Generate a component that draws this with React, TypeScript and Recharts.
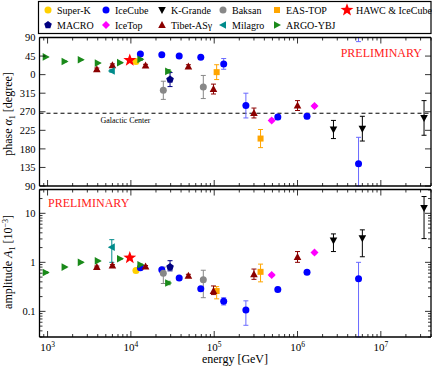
import React from 'react';
import { ScatterChart, Scatter, XAxis, YAxis, ErrorBar, ReferenceLine } from 'recharts';

// each row: [energy GeV, phase deg, phase error deg, amplitude 1e-3, amplitude low, amplitude high]
const superK = [[11500, 32, 0, 0.68, 0.68, 0.68]];
const iceCube = [
  [13000, 50, 2, 0.78, 0.75, 0.81],
  [23500, 48, 2, 0.71, 0.68, 0.74],
  [38000, 45, 2, 0.48, 0.46, 0.5],
  [69000, 42, 3, 0.29, 0.27, 0.31],
  [130000, 26, 13, 0.16, 0.135, 0.19],
  [240000, 285, 30, 0.107, 0.052, 0.164],
  [580000, 257, 6, 0.28, 0.26, 0.31],
  [1300000, 259, 6, 0.63, 0.59, 0.67],
  [5400000, 144, 64, 0.46, 0.01, 1.0],
];
const kGrande = [
  [2700000, 227, 22, 2.78, 1.66, 3.8],
  [6000000, 229, 30, 3.1, 1.3, 4.6],
  [33000000, 255, 42, 12.8, 3.05, 22],
];
const baksan = [
  [24500, 322, 22, 0.6, 0.37, 0.8],
  [74000, 330, 28, 0.44, 0.19, 0.69],
];
const easTop = [
  [107000, 6, 18, 0.26, 0.18, 0.32],
  [360000, 205, 22, 0.64, 0.4, 0.92],
];
const hawcIceCube = [[9700, 35, 0, 1.24, 1.24, 1.24]];
const macro = [[29500, 348, 17, 0.8, 0.67, 1.08]];
const iceTop = [
  [490000, 249, 3, 0.55, 0.52, 0.58],
  [1600000, 284, 3, 1.58, 1.5, 1.66],
];
const tibet = [
  [3900, 13, 3, 0.8, 0.76, 0.84],
  [6000, 23, 3, 0.86, 0.82, 0.9],
  [15000, 22, 3, 0.82, 0.78, 0.86],
  [49000, 20, 4, 0.53, 0.5, 0.57],
  [98000, 325, 12, 0.26, 0.22, 0.33],
  [300000, 267, 12, 0.57, 0.45, 0.73],
  [1000000, 285, 12, 1.29, 1.0, 1.66],
];
const milagro = [[5900, 9, 3, 2.04, 1.0, 2.9]];
const argo = [
  [950, 43, 1, 0.62, 0.6, 0.64],
  [1600, 32, 1, 0.8, 0.78, 0.82],
  [2500, 36, 1, 1.0, 0.98, 1.02],
  [4000, 28, 1, 1.07, 1.04, 1.1],
  [7400, 29, 1, 1.18, 1.15, 1.21],
  [13000, 37, 2, 0.89, 0.86, 0.92],
  [28000, 8, 4, 0.38, 0.35, 0.41],
];

const GALACTIC_CENTER = 266.4;
const PHASE_TICKS = [90, 45, 0, -45, -90, -135, -180, -225, -270];
const PHASE_DOMAIN = [-270, 90];
const X_DOMAIN = [800, 4e7];
const AMP_DOMAIN = [0.03, 30.6];

const SERIES = [
  { name: 'Super-K', rows: superK, color: '#FFD000', bar: '#FFD000', kind: 'circle', row: 0, col: 0 },
  { name: 'IceCube', rows: iceCube, color: '#0000FF', bar: '#6A6AFF', kind: 'circle', row: 0, col: 1 },
  { name: 'K-Grande', rows: kGrande, color: '#000000', bar: '#000000', kind: 'down', row: 0, col: 2 },
  { name: 'Baksan', rows: baksan, color: '#888888', bar: '#888888', kind: 'circle', row: 0, col: 3 },
  { name: 'EAS-TOP', rows: easTop, color: '#FFA500', bar: '#FFA500', kind: 'square', row: 0, col: 4 },
  { name: 'HAWC & IceCube', rows: hawcIceCube, color: '#FF0000', bar: '#FF0000', kind: 'star', row: 0, col: 5 },
  { name: 'MACRO', rows: macro, color: '#000080', bar: '#000080', kind: 'pentagon', row: 1, col: 0 },
  { name: 'IceTop', rows: iceTop, color: '#FF00FF', bar: '#FF00FF', kind: 'diamond', row: 1, col: 1 },
  { name: 'Tibet-ASγ', rows: tibet, color: '#8B0000', bar: '#8B0000', kind: 'up', row: 1, col: 2 },
  { name: 'Milagro', rows: milagro, color: '#008B8B', bar: '#008B8B', kind: 'left', row: 1, col: 3 },
  { name: 'ARGO-YBJ', rows: argo, color: '#1A8A1A', bar: '#1A8A1A', kind: 'right', row: 1, col: 4 },
];

const W = 432;
const H = 367;
const FONT = "'Liberation Serif', 'DejaVu Serif', serif";
const FRAME = { stroke: '#000', strokeWidth: 1.3 };
const LEGEND_X = [48, 106, 162, 223, 277, 347];
const LEGEND_Y = [10, 25];

// log ticks (1..9 x 10^n) inside a range
const logTicks = (lo: number, hi: number) => {
  const out: number[] = [];
  for (let d = Math.floor(Math.log10(lo)); d <= Math.ceil(Math.log10(hi)); d++) {
    for (let m = 1; m < 10; m++) {
      const v = +(m * Math.pow(10, d)).toPrecision(6);
      if (v >= lo && v <= hi) out.push(v);
    }
  }
  return out;
};
const X_TICKS = logTicks(X_DOMAIN[0], X_DOMAIN[1]);
const AMP_TICKS = logTicks(AMP_DOMAIN[0], AMP_DOMAIN[1]);
const isDecade = (v: number) => Math.abs(Math.log10(v) - Math.round(Math.log10(v))) < 1e-6;

// phase is shown from 90 down through 0 to 90 again (-270)
const wrap = (p: number) => (p > 90 ? p - 360 : p);

// error bars are cut at the frame; a phase bar running off the bottom comes back in at the top
const phaseData = (rows: number[][]) =>
  rows.flatMap((r) => {
    const v = wrap(r[1]);
    const d = r[2];
    const pts: any[] = [{ e: r[0], v, err: [Math.min(d, v - PHASE_DOMAIN[0]), Math.min(d, PHASE_DOMAIN[1] - v)] }];
    const over = PHASE_DOMAIN[0] - (v - d);
    if (over > 0) pts.push({ e: r[0], v: PHASE_DOMAIN[1], err: [over, 0], ghost: true });
    return pts;
  });

const ampData = (rows: number[][]) =>
  rows.map((r) => ({
    e: r[0],
    v: r[3],
    err: [r[3] - Math.max(r[4], AMP_DOMAIN[0]), Math.min(r[5], AMP_DOMAIN[1]) - r[3]],
  }));

const Marker = ({ kind, cx, cy, color }: any) => {
  const poly = (pts: number[][]) => (
    <polygon points={pts.map((p) => `${cx + p[0]},${cy + p[1]}`).join(' ')} fill={color} />
  );
  switch (kind) {
    case 'square':
      return <rect x={cx - 3} y={cy - 3} width={6} height={6} fill={color} />;
    case 'diamond':
      return poly([[0, -4], [4, 0], [0, 4], [-4, 0]]);
    case 'up':
      return poly([[0, -4], [3.8, 3], [-3.8, 3]]);
    case 'down':
      return poly([[0, 4], [3.8, -3], [-3.8, -3]]);
    case 'right':
      return poly([[4, 0], [-3, -3.8], [-3, 3.8]]);
    case 'left':
      return poly([[-4, 0], [3, -3.8], [3, 3.8]]);
    case 'pentagon':
      return poly([0, 1, 2, 3, 4].map((i) => {
        const a = -Math.PI / 2 + (i * 2 * Math.PI) / 5;
        return [4 * Math.cos(a), 4 * Math.sin(a)];
      }));
    case 'star':
      return poly(Array.from({ length: 10 }, (_, i) => {
        const a = -Math.PI / 2 + (i * Math.PI) / 5;
        const r = i % 2 === 0 ? 6.8 : 2.8;
        return [r * Math.cos(a), r * Math.sin(a)];
      }));
    default:
      return <circle cx={cx} cy={cy} r={3.5} fill={color} />;
  }
};

const pointShape = (s: any) => (p: any) =>
  p.ghost || (p.payload && p.payload.ghost) ? <g /> : <Marker kind={s.kind} cx={p.cx} cy={p.cy} color={s.color} />;

// tick renderers: ticks point into the frame, labels only where asked
const xTick = (side: 'top' | 'bottom', labels: boolean) => (p: any) => {
  const v = p.payload.value;
  const major = isDecade(v);
  const len = major ? 6 : 3;
  const dir = side === 'bottom' ? -1 : 1;
  return (
    <g>
      <line x1={p.x} x2={p.x} y1={p.y} y2={p.y + dir * len} stroke="#000" strokeWidth={0.8} />
      {labels && major && (
        <text x={p.x} y={p.y + 14} textAnchor="middle" fontSize={11} fontFamily={FONT} fill="#000">
          10<tspan fontSize={7.5} dy={-4.5}>{Math.round(Math.log10(v))}</tspan>
        </text>
      )}
    </g>
  );
};

const yTick = (side: 'left' | 'right', label?: (v: number) => string | null, log?: boolean) => (p: any) => {
  const v = p.payload.value;
  const major = log ? isDecade(v) : true;
  const len = major ? 6 : 3;
  const dir = side === 'left' ? 1 : -1;
  const text = label ? label(v) : null;
  return (
    <g>
      <line x1={p.x} x2={p.x + dir * len} y1={p.y} y2={p.y} stroke="#000" strokeWidth={0.8} />
      {text !== null && (
        <text x={p.x - 4} y={p.y} dy="0.35em" textAnchor="end" fontSize={10.5} fontFamily={FONT} fill="#000">
          {text}
        </text>
      )}
    </g>
  );
};

const phaseLabel = (v: number) => String(((v % 360) + 360) % 360);
const ampLabel = (v: number) => (isDecade(v) ? String(v) : null);

const axisCommon = { tickSize: 0, tickMargin: 0, tickLine: false, axisLine: FRAME, interval: 0 as const };

const drawOrder = [...SERIES.filter((s) => s.kind !== 'star'), ...SERIES.filter((s) => s.kind === 'star')];

const App: React.FC = () => {
  return (
    <div style={{ position: 'absolute', left: 0, top: 0, width: W, height: H, background: '#fff', fontFamily: FONT }}>
      {/* phase panel */}
      <div style={{ position: 'absolute', left: 0, top: 0 }}>
        <ScatterChart width={W} height={H} margin={{ top: 36.5, right: 0, bottom: 180, left: 38.5 }}>
          <XAxis dataKey="e" type="number" scale="log" domain={X_DOMAIN} allowDataOverflow ticks={X_TICKS}
            height={1} tick={xTick('bottom', false)} {...axisCommon} />
          <XAxis xAxisId="t" orientation="top" dataKey="e" type="number" scale="log" domain={X_DOMAIN} allowDataOverflow
            ticks={X_TICKS} height={1} tick={xTick('top', false)} {...axisCommon} />
          <YAxis dataKey="v" type="number" domain={PHASE_DOMAIN} allowDataOverflow ticks={PHASE_TICKS}
            width={1} tick={yTick('left', phaseLabel)} {...axisCommon} />
          <YAxis yAxisId="r" orientation="right" type="number" domain={PHASE_DOMAIN} allowDataOverflow ticks={PHASE_TICKS}
            width={1} tick={yTick('right')} {...axisCommon} />
          <ReferenceLine
            y={GALACTIC_CENTER - 360}
            stroke="#000"
            strokeWidth={1}
            strokeDasharray="4 3"
            label={(p: any) => (
              <text x={p.viewBox.x + 86} y={p.viewBox.y + 7} dy="0.35em" textAnchor="middle" fontSize={8} fontFamily={FONT} fill="#000">
                Galactic Center
              </text>
            )}
          />
          {drawOrder.map((s) => (
            <Scatter key={s.name} name={s.name} data={phaseData(s.rows)} isAnimationActive={false} shape={pointShape(s)}>
              <ErrorBar dataKey="err" direction="y" width={2.5} stroke={s.bar} strokeWidth={1} />
            </Scatter>
          ))}
        </ScatterChart>
      </div>

      {/* amplitude panel */}
      <div style={{ position: 'absolute', left: 0, top: 0 }}>
        <ScatterChart width={W} height={H} margin={{ top: 188.5, right: 0, bottom: 29, left: 38.5 }}>
          <XAxis dataKey="e" type="number" scale="log" domain={X_DOMAIN} allowDataOverflow ticks={X_TICKS}
            height={1} tick={xTick('bottom', true)} {...axisCommon} />
          <XAxis xAxisId="t" orientation="top" dataKey="e" type="number" scale="log" domain={X_DOMAIN} allowDataOverflow
            ticks={X_TICKS} height={1} tick={xTick('top', false)} {...axisCommon} />
          <YAxis dataKey="v" type="number" scale="log" domain={AMP_DOMAIN} allowDataOverflow ticks={AMP_TICKS}
            width={1} tick={yTick('left', ampLabel, true)} {...axisCommon} />
          <YAxis yAxisId="r" orientation="right" type="number" scale="log" domain={AMP_DOMAIN} allowDataOverflow
            ticks={AMP_TICKS} width={1} tick={yTick('right', undefined, true)} {...axisCommon} />
          {drawOrder.map((s) => (
            <Scatter key={s.name} name={s.name} data={ampData(s.rows)} isAnimationActive={false} shape={pointShape(s)}>
              <ErrorBar dataKey="err" direction="y" width={2.5} stroke={s.bar} strokeWidth={1} />
            </Scatter>
          ))}
        </ScatterChart>
      </div>

      {/* legend, titles, watermarks */}
      <svg width={W} height={H} style={{ position: 'absolute', left: 0, top: 0, pointerEvents: 'none', fontFamily: FONT }}>
        <rect x={38.5} y={1.5} width={392.5} height={32} fill="#fff" stroke="#000" strokeWidth={1.2} />
        {SERIES.map((s) => (
          <g key={s.name}>
            <Marker kind={s.kind} cx={LEGEND_X[s.col]} cy={LEGEND_Y[s.row]} color={s.color} />
            <text x={LEGEND_X[s.col] + 9} y={LEGEND_Y[s.row]} dy="0.35em" fontSize={10} fill="#000">
              {s.name}
            </text>
          </g>
        ))}
        <text x={422} y={57} textAnchor="end" fontSize={12} fill="#FF2020">PRELIMINARY</text>
        <text x={48} y={207} fontSize={12} fill="#FF2020">PRELIMINARY</text>
        <text x={8} y={114} transform="rotate(-90 8 114)" textAnchor="middle" dy="0.35em" fontSize={12} fill="#000">
          phase <tspan fontStyle="italic">α</tspan><tspan fontSize={8} dy={2.5}>1</tspan><tspan dy={-2.5}> [degree]</tspan>
        </text>
        <text x={8} y={262} transform="rotate(-90 8 262)" textAnchor="middle" dy="0.35em" fontSize={12} fill="#000">
          amplitude <tspan fontStyle="italic">A</tspan><tspan fontSize={8} dy={2.5}>1</tspan><tspan dy={-2.5}> [10</tspan>
          <tspan fontSize={8} dy={-4.5}>−3</tspan><tspan dy={4.5}>]</tspan>
        </text>
        <text x={235} y={363} textAnchor="middle" fontSize={12} fill="#000">energy [GeV]</text>
      </svg>
    </div>
  );
};

export default App;
